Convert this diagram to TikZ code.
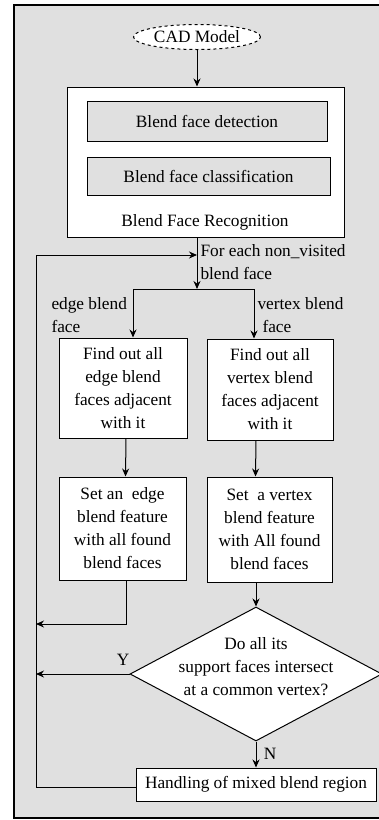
\documentclass[tikz,border=0pt]{standalone}
\usepackage{fontspec}
\setmainfont{Liberation Serif}
\usetikzlibrary{arrows.meta,shapes.geometric}
\definecolor{panelgray}{HTML}{E0E0E0}

\begin{document}
\begin{tikzpicture}[x=1pt,y=1pt,
  font=\fontsize{17.3}{23}\selectfont,
  line width=1pt,
  box/.style={draw, fill=white, inner sep=0pt, align=center},
  subbox/.style={draw, fill=panelgray, inner sep=0pt},
  lbl/.style={inner sep=0pt, align=left},
  arr/.style={-{Stealth[length=8pt,width=7pt]}}]
	\useasboundingbox (0,0) rectangle (378,-820);
	% frame
	\draw[fill=panelgray, line width=1.3pt] (14,-5) rectangle (392,-818);

	% recognition
	\node[draw, dashed, fill=white, ellipse, minimum width=127, minimum height=25, inner sep=0pt] (cad) at (197,-37) {CAD Model};
	\node[box, minimum width=277, minimum height=150] (rec) at (205.5,-162) {};
	\node[subbox, minimum width=240, minimum height=40] (det) at (207,-121) {Blend face detection};
	\node[subbox, minimum width=243, minimum height=38] (cls) at (208.5,-176) {Blend face classification};
	\node[lbl] (reclbl) at (205,-222) {Blend Face Recognition};

	\coordinate (split) at (197,-289);
	\coordinate (entry) at (197,-255);
	\node[lbl, anchor=west] (each) at (200,-262) {For each non\_visited\\blend face};
	\node[lbl, anchor=west] (edgelbl) at (51,-315) {edge blend\\face};
	\node[lbl, anchor=west] (vertlbl) at (257,-315) {vertex blend\\\hspace{5pt}face};

	% two branches
	\node[box, minimum width=128, minimum height=100] (efind) at (123,-388) {Find out all\\edge blend\\faces adjacent\\with it};
	\node[box, minimum width=126, minimum height=101] (vfind) at (270,-389.5) {Find out all\\vertex blend\\faces adjacent\\with it};
	\node[box, minimum width=127, minimum height=103] (eset) at (122.5,-528.5) {Set an\ \ edge\\blend feature\\with all found\\blend faces};
	\node[box, minimum width=125, minimum height=105] (vset) at (269.5,-529.5) {Set\ \ a vertex\\blend feature\\with All found\\blend faces};

	% decision
	\node[draw, fill=white, diamond, minimum width=252, minimum height=134, inner sep=0pt] (check) at (256,-674) {};
	\node[lbl, align=center] (checktxt) at (256,-667) {Do all its\\support faces intersect\\at a common vertex?};
	\node[box, minimum width=240, minimum height=33] (mixed) at (256,-784.5) {Handling of mixed blend region};
	\coordinate (loop) at (36,-787);
	\coordinate (ejoin) at (36,-624);

	% connectors
	\draw[arr] (cad.south) -- (cad.south |- rec.north);
	\draw[arr] (split |- rec.south) -- (split);
	\draw[arr] (split) -| ([xshift=10pt]efind.north);
	\draw[arr] (split) -| ([xshift=-16pt]vfind.north);
	\draw[arr] ([xshift=3pt]efind.south) -- ([xshift=3pt]eset.north);
	\draw[arr] ([xshift=-14pt]vfind.south) -- ([xshift=-14pt]vset.north);
	\draw[arr] ([xshift=-13.5pt]vset.south) -- (check.north);
	\draw[arr] ([xshift=3.5pt]eset.south) |- (ejoin);
	\draw[arr] (check.west) -- (check.west -| loop);
	\draw[arr] (check.south) -- (check.south |- mixed.north);
	\draw[arr] (mixed.west |- loop) -- (loop) -- (loop |- entry) -- (entry);

	% branch labels
	\node[lbl] (ylbl) at (123,-660) {Y};
	\node[lbl] (nlbl) at (270,-754) {N};
\end{tikzpicture}
\end{document}
